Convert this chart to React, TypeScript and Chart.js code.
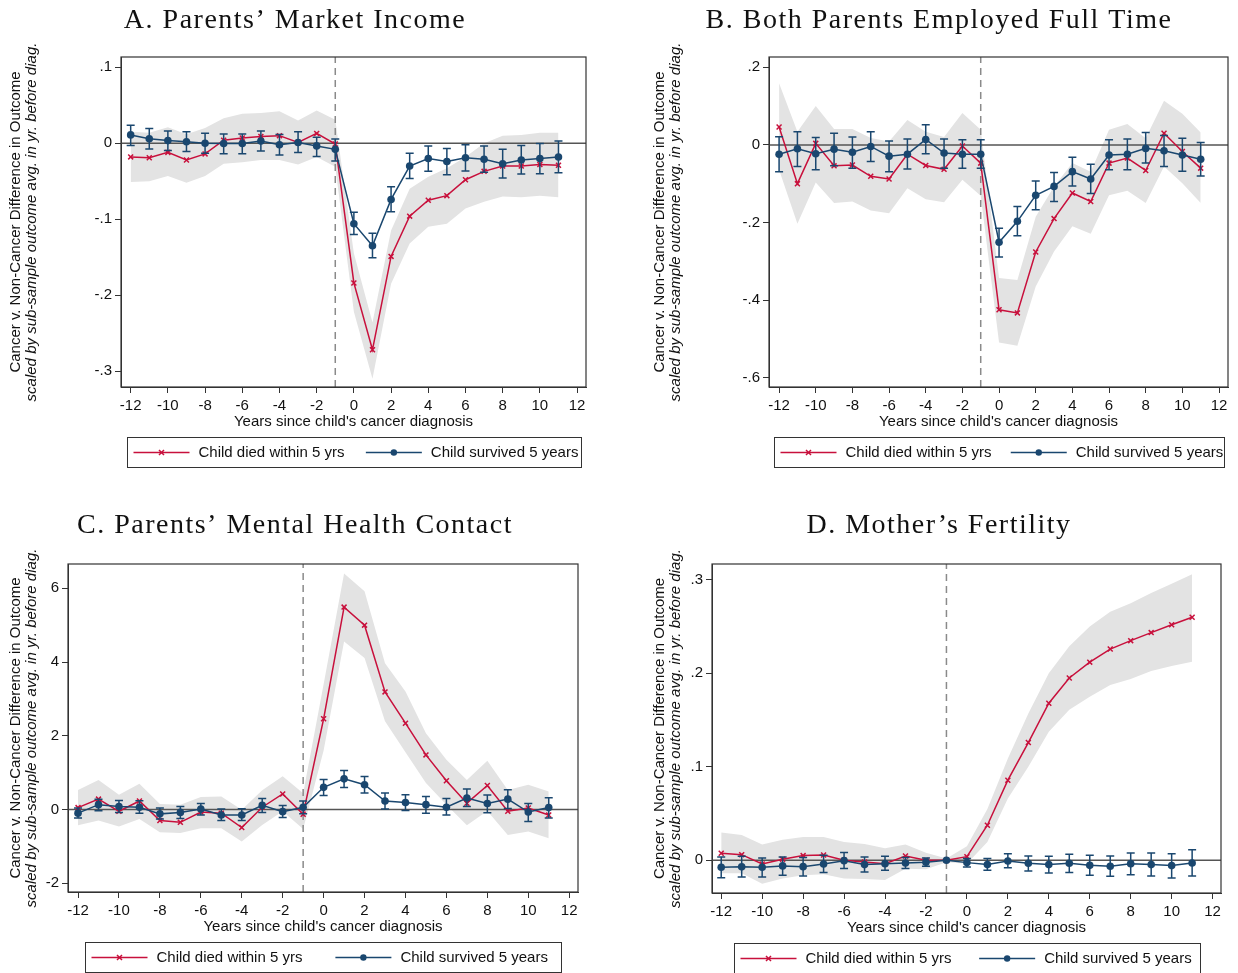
import React, { useEffect, useRef } from "react";
import { Chart, registerables } from "chart.js";
Chart.register(...registerables);

// ---------- shared data ----------
const years = [-12, -11, -10, -9, -8, -7, -6, -5, -4, -3, -2, -1, 0, 1, 2, 3, 4, 5, 6, 7, 8, 9, 10, 11];
const xTicks = [-12, -10, -8, -6, -4, -2, 0, 2, 4, 6, 8, 10, 12];
const xTitle = "Years since child's cancer diagnosis";
const yTitle1 = "Cancer v. Non-Cancer Difference in Outcome";
const yTitle2 = "scaled by sub-sample outcome avg. in yr. before diag.";
const legendDied = "Child died within 5 yrs";
const legendSurv = "Child survived 5 years";

// ---------- Panel A ----------
const titleA = "A. Parents’ Market Income";
const yTicksA = [-0.3, -0.2, -0.1, 0, 0.1];
const diedA = [-0.018, -0.019, -0.012, -0.022, -0.014, 0.004, 0.007, 0.009, 0.010, 0.001, 0.013, -0.001, -0.184, -0.272, -0.149, -0.096, -0.075, -0.069, -0.048, -0.037, -0.030, -0.030, -0.028, -0.029];
const diedHiA = [0.015, 0.014, 0.021, 0.012, 0.020, 0.033, 0.039, 0.040, 0.042, 0.030, 0.043, 0.031, -0.145, -0.236, -0.115, -0.060, -0.044, -0.033, -0.018, 0.000, 0.010, 0.011, 0.014, 0.014];
const diedLoA = [-0.051, -0.050, -0.043, -0.052, -0.043, -0.027, -0.025, -0.022, -0.022, -0.028, -0.018, -0.031, -0.222, -0.310, -0.185, -0.132, -0.110, -0.106, -0.086, -0.077, -0.070, -0.071, -0.069, -0.071];
const survA = [0.011, 0.006, 0.0035, 0.002, 0, -0.0004, -0.0004, 0.003, -0.002, 0.001, -0.0035, -0.008, -0.106, -0.135, -0.074, -0.030, -0.020, -0.024, -0.019, -0.021, -0.027, -0.022, -0.020, -0.018];
const survHiA = [0.0238, 0.0194, 0.0163, 0.015, 0.0132, 0.0123, 0.0123, 0.0163, 0.0115, 0.015, 0.0079, 0.0057, -0.0907, -0.1185, -0.0573, -0.0132, -0.0035, -0.007, -0.0018, -0.0035, -0.0079, -0.0031, -0.0004, 0.003];
const survLoA = [-0.003, -0.0075, -0.0097, -0.011, -0.0132, -0.0137, -0.0137, -0.0101, -0.0154, -0.0123, -0.0176, -0.0233, -0.1203, -0.1507, -0.0903, -0.0463, -0.037, -0.0414, -0.0366, -0.0383, -0.0458, -0.0405, -0.040, -0.039];

// ---------- Panel B ----------
const titleB = "B. Both Parents Employed Full Time";
const yTicksB = [-0.6, -0.4, -0.2, 0, 0.2];
const diedB = [0.046, -0.100, 0.004, -0.054, -0.052, -0.081, -0.088, -0.024, -0.053, -0.063, -0.003, -0.047, -0.425, -0.433, -0.276, -0.190, -0.124, -0.146, -0.047, -0.034, -0.066, 0.030, -0.017, -0.060];
const diedHiB = [0.159, 0.034, 0.100, 0.041, 0.041, 0.018, 0.009, 0.064, 0.034, 0.020, 0.082, 0.039, -0.343, -0.348, -0.185, -0.107, -0.047, -0.069, 0.039, 0.054, 0.017, 0.114, 0.080, 0.032];
const diedLoB = [-0.064, -0.203, -0.097, -0.150, -0.146, -0.169, -0.176, -0.112, -0.140, -0.148, -0.090, -0.131, -0.509, -0.518, -0.365, -0.275, -0.210, -0.229, -0.130, -0.118, -0.150, -0.056, -0.099, -0.150];
const survB = [-0.024, -0.010, -0.023, -0.011, -0.019, -0.004, -0.029, -0.024, 0.014, -0.021, -0.024, -0.024, -0.251, -0.197, -0.130, -0.107, -0.069, -0.088, -0.026, -0.024, -0.009, -0.015, -0.026, -0.037];
const survHiB = [0.021, 0.034, 0.019, 0.030, 0.020, 0.034, 0.010, 0.015, 0.052, 0.015, 0.013, 0.013, -0.215, -0.159, -0.093, -0.071, -0.032, -0.050, 0.013, 0.015, 0.032, 0.024, 0.017, 0.006];
const survLoB = [-0.069, -0.056, -0.064, -0.054, -0.060, -0.043, -0.069, -0.062, -0.023, -0.060, -0.060, -0.060, -0.289, -0.234, -0.167, -0.146, -0.106, -0.125, -0.064, -0.064, -0.047, -0.056, -0.068, -0.080];

// ---------- Panel C ----------
const titleC = "C. Parents’ Mental Health Contact";
const yTicksC = [-2, 0, 2, 4, 6];
const diedC = [0.05, 0.28, -0.05, 0.23, -0.30, -0.35, -0.07, -0.10, -0.49, 0.06, 0.42, -0.13, 2.46, 5.49, 5.00, 3.19, 2.34, 1.48, 0.78, 0.17, 0.65, -0.05, 0.04, -0.15];
const diedHiC = [0.53, 0.80, 0.40, 0.70, 0.15, 0.13, 0.34, 0.35, -0.01, 0.52, 0.90, 0.44, 3.40, 6.40, 5.92, 3.97, 3.20, 2.07, 1.35, 0.80, 1.32, 0.53, 0.67, 0.49];
const diedLoC = [-0.43, -0.30, -0.46, -0.26, -0.62, -0.64, -0.51, -0.51, -0.87, -0.42, -0.05, -0.53, 1.60, 4.56, 4.11, 2.39, 1.55, 0.72, 0.13, -0.43, -0.04, -0.69, -0.60, -0.78];
const survC = [-0.10, 0.13, 0.08, 0.06, -0.12, -0.08, 0.01, -0.15, -0.15, 0.11, -0.06, 0.06, 0.60, 0.83, 0.67, 0.23, 0.19, 0.13, 0.06, 0.31, 0.16, 0.28, -0.07, 0.05];
const survHiC = [0.036, 0.28, 0.244, 0.235, 0.036, 0.081, 0.163, 0.009, 0.018, 0.299, 0.109, 0.226, 0.814, 1.059, 0.896, 0.443, 0.398, 0.353, 0.299, 0.552, 0.389, 0.534, 0.163, 0.317];
const survLoC = [-0.235, -0.036, -0.081, -0.10, -0.262, -0.244, -0.154, -0.299, -0.299, -0.081, -0.217, -0.118, 0.380, 0.597, 0.443, 0.009, -0.027, -0.10, -0.154, 0.081, -0.09, 0.027, -0.326, -0.235];

// ---------- Panel D ----------
const titleD = "D. Mother’s Fertility";
const yTicksD = [0, 0.1, 0.2, 0.3];
const diedD = [0.0075, 0.006, -0.004, 0.001, 0.005, 0.0057, 0, -0.0018, -0.0036, 0.0046, 0, 0, 0.0039, 0.0375, 0.0857, 0.126, 0.168, 0.195, 0.212, 0.226, 0.235, 0.2436, 0.252, 0.260];
const diedHiD = [0.0296, 0.027, 0.017, 0.022, 0.025, 0.025, 0.0196, 0.0175, 0.0129, 0.017, 0.008, 0.002, 0.015, 0.055, 0.109, 0.157, 0.200, 0.229, 0.250, 0.266, 0.275, 0.286, 0.296, 0.306];
const diedLoD = [-0.014, -0.014, -0.025, -0.0196, -0.016, -0.015, -0.0196, -0.020, -0.021, -0.009, -0.0096, -0.002, -0.0036, 0.0196, 0.066, 0.100, 0.1375, 0.161, 0.175, 0.1875, 0.194, 0.2025, 0.208, 0.2125];
const survD = [-0.0075, -0.007, -0.0075, -0.006, -0.0068, -0.004, -0.0004, -0.0046, -0.0036, -0.0029, -0.002, 0, -0.0025, -0.0046, -0.0007, -0.0032, -0.0046, -0.0032, -0.0054, -0.0064, -0.0036, -0.0046, -0.0057, -0.0029];
const survHiD = [0.0036, 0.0043, 0.0025, 0.0036, 0.0029, 0.0054, 0.0082, 0.0036, 0.0043, 0.0029, 0.0025, null, 0.0018, 0.0018, 0.0071, 0.0046, 0.0043, 0.0064, 0.0054, 0.0046, 0.0079, 0.0079, 0.0071, 0.0114];
const survLoD = [-0.0186, -0.0179, -0.0179, -0.0161, -0.0168, -0.0132, -0.0089, -0.0125, -0.0107, -0.0089, -0.0064, null, -0.0071, -0.0107, -0.0079, -0.0114, -0.0136, -0.0132, -0.0161, -0.0171, -0.0154, -0.0168, -0.0189, -0.0168];

// ---------- styles ----------
const RED = "#c8103c";
const BLUE = "#1a476f";
const BAND = "#e3e3e3";
const AXIS = "#333333";
const TEXT = "#111111";
const SANS = "'Liberation Sans', Arial, sans-serif";
const SERIF = "'Liberation Serif', 'Times New Roman', serif";

type Panel = {
  title: string;
  yTicks: number[];
  died: number[]; diedHi: number[]; diedLo: number[];
  surv: number[]; survHi: (number | null)[]; survLo: (number | null)[];
  yMin: number; yMax: number; xMin: number; xMax: number;
  left: number; top: number; width: number; height: number;
  cl: number; cr: number; ct: number; cb: number; legendW: number;
};

const panels: Panel[] = [
  { title: titleA, yTicks: yTicksA, died: diedA, diedHi: diedHiA, diedLo: diedLoA, surv: survA, survHi: survHiA, survLo: survLoA,
    yMin: -0.321, yMax: 0.1136, xMin: -12.52, xMax: 12.48, left: 0, top: 0, width: 619, height: 480, cl: 121, cr: 586, ct: 57, cb: 387, legendW: 454 },
  { title: titleB, yTicks: yTicksB, died: diedB, diedHi: diedHiB, diedLo: diedLoB, surv: survB, survHi: survHiB, survLo: survLoB,
    yMin: -0.624, yMax: 0.2265, xMin: -12.55, xMax: 12.49, left: 644, top: 0, width: 594, height: 480, cl: 125, cr: 584, ct: 57, cb: 387, legendW: 450 },
  { title: titleC, yTicks: yTicksC, died: diedC, diedHi: diedHiC, diedLo: diedLoC, surv: survC, survHi: survHiC, survLo: survLoC,
    yMin: -2.24, yMax: 6.66, xMin: -12.49, xMax: 12.43, left: 0, top: 505, width: 619, height: 468, cl: 68, cr: 578, ct: 59, cb: 387, legendW: 476 },
  { title: titleD, yTicks: yTicksD, died: diedD, diedHi: diedHiD, diedLo: diedLoD, surv: survD, survHi: survHiD, survLo: survLoD,
    yMin: -0.035, yMax: 0.317, xMin: -12.45, xMax: 12.41, left: 644, top: 505, width: 594, height: 468, cl: 68, cr: 577, ct: 59, cb: 388, legendW: 466 },
];

function fmt(v: number): string {
  if (v === 0) return "0";
  return String(v).replace("0.", ".");
}

function drawCross(ctx: CanvasRenderingContext2D, x: number, y: number, r: number) {
  ctx.beginPath();
  ctx.moveTo(x - r, y - r); ctx.lineTo(x + r, y + r);
  ctx.moveTo(x - r, y + r); ctx.lineTo(x + r, y - r);
  ctx.stroke();
}

function PanelChart({ p }: { p: Panel }) {
  const ref = useRef<HTMLCanvasElement | null>(null);
  useEffect(() => {
    if (!ref.current) return;
    const decor = {
      id: "decor",
      afterDatasetsDraw(chart: any) {
        const ctx = chart.ctx as CanvasRenderingContext2D;
        const xs = chart.scales.x, ys = chart.scales.y;
        ctx.save();
        ctx.strokeStyle = BLUE;
        ctx.lineWidth = 1.5;
        years.forEach((yr, i) => {
          const lo = p.survLo[i], hi = p.survHi[i];
          if (lo == null || hi == null) return;
          const px = xs.getPixelForValue(yr);
          const a = ys.getPixelForValue(lo), b = ys.getPixelForValue(hi);
          ctx.beginPath();
          ctx.moveTo(px, a); ctx.lineTo(px, b);
          ctx.moveTo(px - 4, a); ctx.lineTo(px + 4, a);
          ctx.moveTo(px - 4, b); ctx.lineTo(px + 4, b);
          ctx.stroke();
        });
        ctx.restore();
      },
      afterDraw(chart: any) {
        const ctx = chart.ctx as CanvasRenderingContext2D;
        const ca = chart.chartArea;
        ctx.save();
        // frame
        ctx.strokeStyle = AXIS;
        ctx.lineWidth = 1.2;
        ctx.strokeRect(ca.left, ca.top, ca.right - ca.left, ca.bottom - ca.top);
        // title
        ctx.fillStyle = TEXT;
        ctx.font = `28px ${SERIF}`;
        (ctx as any).letterSpacing = "1.5px";
        ctx.textAlign = "center";
        ctx.textBaseline = "alphabetic";
        ctx.fillText(p.title, 295, 28);
        (ctx as any).letterSpacing = "0px";
        // y titles
        const cy = (ca.top + ca.bottom) / 2;
        ctx.save();
        ctx.translate(16, cy);
        ctx.rotate(-Math.PI / 2);
        ctx.textBaseline = "middle";
        ctx.font = `15px ${SANS}`;
        ctx.fillText(yTitle1, 0, 0);
        ctx.restore();
        ctx.save();
        ctx.translate(32, cy);
        ctx.rotate(-Math.PI / 2);
        ctx.textBaseline = "middle";
        ctx.font = `italic 15px ${SANS}`;
        ctx.fillText(yTitle2, 0, 0);
        ctx.restore();
        // legend
        const cx = (ca.left + ca.right) / 2;
        const w = p.legendW;
        const bx = Math.round(cx - w / 2) + 0.5;
        const by = Math.round(ca.bottom + 50) + 0.5;
        const bh = 30;
        ctx.strokeStyle = AXIS;
        ctx.lineWidth = 1;
        ctx.strokeRect(bx, by, w, bh);
        const my = by + bh / 2;
        ctx.font = `15px ${SANS}`;
        ctx.textAlign = "left";
        ctx.textBaseline = "middle";
        // item 1
        let lx = bx + 6;
        ctx.strokeStyle = RED; ctx.lineWidth = 1.5;
        ctx.beginPath(); ctx.moveTo(lx, my); ctx.lineTo(lx + 56, my); ctx.stroke();
        drawCross(ctx, lx + 28, my, 2.5);
        ctx.fillStyle = TEXT;
        ctx.fillText(legendDied, lx + 65, my);
        // item 2
        lx = bx + w * 0.525;
        ctx.strokeStyle = BLUE; ctx.lineWidth = 1.5;
        ctx.beginPath(); ctx.moveTo(lx, my); ctx.lineTo(lx + 56, my); ctx.stroke();
        ctx.fillStyle = BLUE;
        ctx.beginPath(); ctx.arc(lx + 28, my, 3.2, 0, Math.PI * 2); ctx.fill();
        ctx.fillStyle = TEXT;
        ctx.fillText(legendSurv, lx + 65, my);
        ctx.restore();
      },
    };

    const chart = new Chart(ref.current, {
      type: "line",
      data: {
        datasets: [
          { label: "ciHi", data: years.map((x, i) => ({ x, y: p.diedHi[i] })), borderColor: "rgba(0,0,0,0)", borderWidth: 0, pointRadius: 0, fill: "+1", backgroundColor: BAND, order: 10 },
          { label: "ciLo", data: years.map((x, i) => ({ x, y: p.diedLo[i] })), borderColor: "rgba(0,0,0,0)", borderWidth: 0, pointRadius: 0, fill: false, order: 10 },
          { label: "zero", data: [{ x: p.xMin, y: 0 }, { x: p.xMax, y: 0 }], borderColor: "#555555", borderWidth: 1.5, pointRadius: 0, fill: false, order: 6 },
          { label: "event", data: [{ x: -1, y: p.yMin }, { x: -1, y: p.yMax }], borderColor: "#8a8a8a", borderWidth: 1.5, borderDash: [7, 5], pointRadius: 0, fill: false, order: 6 },
          { label: legendDied, data: years.map((x, i) => ({ x, y: p.died[i] })), borderColor: RED, borderWidth: 1.5, pointStyle: "crossRot", pointRadius: 3.5, pointBorderColor: RED, pointBorderWidth: 1.5, pointBackgroundColor: RED, fill: false, order: 2 },
          { label: legendSurv, data: years.map((x, i) => ({ x, y: p.surv[i] })), borderColor: BLUE, borderWidth: 1.5, pointStyle: "circle", pointRadius: 3.8, pointBorderWidth: 0, pointBackgroundColor: BLUE, fill: false, order: 1 },
        ],
      },
      options: {
        animation: false,
        responsive: false,
        events: [],
        layout: { padding: { left: 40, top: p.ct, right: p.width - p.cr, bottom: p.height - p.cb - 45 } },
        elements: { line: { tension: 0 } },
        plugins: { legend: { display: false }, tooltip: { enabled: false }, title: { display: false } },
        scales: {
          x: {
            type: "linear",
            min: p.xMin,
            max: p.xMax,
            afterBuildTicks: (s: any) => { s.ticks = xTicks.map((v) => ({ value: v })); },
            afterFit: (s: any) => { s.height = 45; },
            ticks: { autoSkip: false, maxRotation: 0, padding: 4, color: TEXT, font: { family: SANS, size: 15 }, callback: (v: any) => fmt(Number(v)) },
            grid: { display: true, drawOnChartArea: false, drawTicks: true, tickLength: 6, color: AXIS, lineWidth: 1 },
            border: { display: true, color: AXIS, width: 1 },
            title: { display: true, text: xTitle, color: TEXT, font: { family: SANS, size: 15 }, padding: { top: 0, bottom: 1 } },
          },
          y: {
            type: "linear",
            min: p.yMin,
            max: p.yMax,
            afterBuildTicks: (s: any) => { s.ticks = p.yTicks.map((v) => ({ value: v })); },
            afterFit: (s: any) => { s.width = p.cl - 40; },
            ticks: { padding: 3, color: TEXT, font: { family: SANS, size: 15 }, callback: (v: any) => fmt(Number(v)) },
            grid: { display: true, drawOnChartArea: false, drawTicks: true, tickLength: 6, color: AXIS, lineWidth: 1 },
            border: { display: true, color: AXIS, width: 1 },
          },
        },
      },
      plugins: [decor],
    } as any);
    return () => chart.destroy();
  }, [p]);
  return (
    <canvas
      ref={ref}
      width={p.width}
      height={p.height}
      style={{ position: "absolute", left: p.left, top: p.top, width: p.width, height: p.height }}
    />
  );
}

export default function App() {
  return (
    <div style={{ position: "fixed", left: 0, top: 0, width: 1238, height: 973, background: "#ffffff", overflow: "hidden" }}>
      {panels.map((p, i) => (
        <PanelChart key={i} p={p} />
      ))}
    </div>
  );
}
